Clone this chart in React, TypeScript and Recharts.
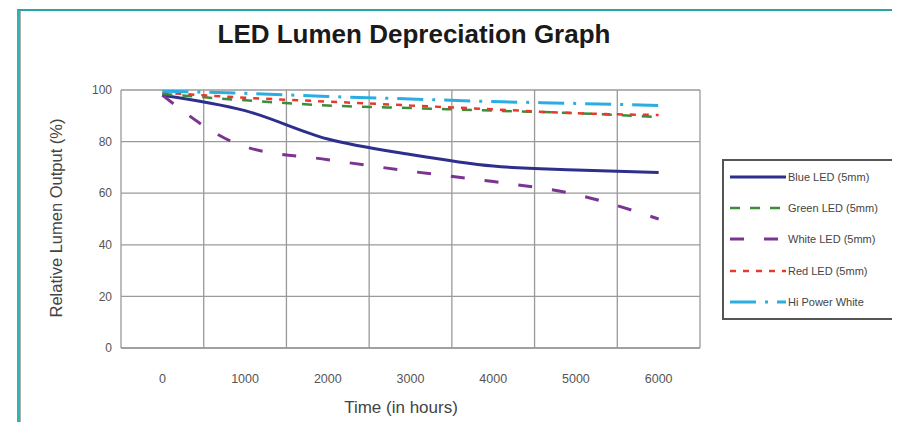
import { CartesianGrid, Line, LineChart, ReferenceLine, XAxis, YAxis } from "recharts";

const hours = [0, 1000, 2000, 3000, 4000, 5000, 6000];
const blueLed = [98, 92, 81, 75, 70.5, 69, 68];
const greenLed = [98.5, 96, 94, 93, 92, 91, 89.5];
const whiteLed = [98, 78, 73, 68.5, 64.5, 59.5, 50];
const redLed = [99, 97, 95.5, 94, 92.5, 91, 90.3];
const hiPowerWhite = [99.5, 98.7, 97.5, 96.5, 95.5, 94.8, 94];
const yTicks = [0, 20, 40, 60, 80, 100];

// category boundaries, drawn as the vertical grid (Excel "between tick marks" look)
const step = 1000;
const boundaries = [...hours.slice(1).map((h) => h - step / 2), hours[hours.length - 1] + step / 2];

const series = [
  { key: "blue", name: "Blue LED (5mm)", values: blueLed, color: "#2e2f8c", width: 3, dash: undefined },
  { key: "green", name: "Green LED (5mm)", values: greenLed, color: "#3c8c3a", width: 2.5, dash: "10 10" },
  { key: "white", name: "White LED (5mm)", values: whiteLed, color: "#7b3590", width: 3, dash: "14 20" },
  { key: "red", name: "Red LED (5mm)", values: redLed, color: "#e8392c", width: 2.5, dash: "6 7" },
  { key: "hipower", name: "Hi Power White", values: hiPowerWhite, color: "#2aaee2", width: 3, dash: "26 9 3 9" }
];

const data = hours.map((h, i) => {
  const row: Record<string, number> = { hours: h };
  series.forEach((s) => {
    row[s.key] = s.values[i];
  });
  return row;
});

const font = "'Liberation Sans', Arial, sans-serif";
const gridColor = "#9a9a9a";

function LegendBox() {
  return (
    <div
      style={{
        position: "absolute",
        left: 722 - 8,
        top: 159 - 8,
        width: 169,
        height: 157,
        border: "2px solid #555",
        background: "#fff",
        fontFamily: font,
        fontSize: 11,
        color: "#444",
        whiteSpace: "nowrap"
      }}
    >
      {series.map((s) => (
        <div key={s.key} style={{ height: 31.4, display: "flex", alignItems: "center" }}>
          <svg width={64} height={10} style={{ flex: "none" }}>
            <line x1={6} y1={5} x2={62} y2={5} stroke={s.color} strokeWidth={s.width} strokeDasharray={s.dash} />
          </svg>
          <span>{s.name}</span>
        </div>
      ))}
    </div>
  );
}

export default function App() {
  return (
    <div style={{ position: "relative", width: 884, height: 414 }}>
      <div
        style={{
          position: "absolute",
          left: 9,
          top: 1,
          width: 890,
          height: 430,
          borderLeft: "3px solid #2fb4b4",
          borderTop: "2px solid #23a7a7",
          boxShadow: "inset 1px 0 0 #b0b0b0",
          background: "#fff"
        }}
      />
      <div
        style={{
          position: "absolute",
          left: -8,
          top: 11,
          width: 828,
          textAlign: "center",
          fontFamily: font,
          fontWeight: "bold",
          fontSize: 26,
          color: "#1a1a1a"
        }}
      >
        LED Lumen Depreciation Graph
      </div>
      <div
        style={{
          position: "absolute",
          left: 56 - 8 - 120,
          top: 218 - 8 - 11,
          width: 240,
          height: 22,
          lineHeight: "22px",
          textAlign: "center",
          transform: "rotate(-90deg)",
          fontFamily: font,
          fontSize: 16.5,
          color: "#444"
        }}
      >
        Relative Lumen Output (%)
      </div>
      <div
        style={{
          position: "absolute",
          left: 401 - 8 - 100,
          top: 398 - 8,
          width: 200,
          textAlign: "center",
          fontFamily: font,
          fontSize: 17,
          color: "#444"
        }}
      >
        Time (in hours)
      </div>
      <div style={{ position: "absolute", left: -8, top: -8 }}>
        <LineChart width={900} height={430} data={data} margin={{ top: 90, right: 200, bottom: 52, left: 61 }}>
          <CartesianGrid vertical={false} stroke={gridColor} strokeWidth={1.3} />
          {boundaries.map((b) => (
            <ReferenceLine key={b} x={b} stroke={gridColor} strokeWidth={1.3} ifOverflow="visible" />
          ))}
          <XAxis
            dataKey="hours"
            type="number"
            domain={[hours[0] - step / 2, hours[hours.length - 1] + step / 2]}
            ticks={hours}
            height={30}
            tickLine={false}
            tickSize={0}
            tickMargin={26}
            axisLine={{ stroke: gridColor, strokeWidth: 1.3 }}
            tick={{ fontSize: 12.5, fill: "#555", fontFamily: font }}
          />
          <YAxis
            domain={[0, 100]}
            ticks={yTicks}
            width={60}
            tickLine={false}
            tickSize={0}
            tickMargin={9}
            axisLine={{ stroke: gridColor, strokeWidth: 1.3 }}
            tick={{ fontSize: 12, fill: "#555", fontFamily: font }}
          />
          {series.map((s) => (
            <Line
              key={s.key}
              dataKey={s.key}
              name={s.name}
              type="monotone"
              stroke={s.color}
              strokeWidth={s.width}
              strokeDasharray={s.dash}
              dot={false}
              activeDot={false}
              isAnimationActive={false}
            />
          ))}
        </LineChart>
      </div>
      <LegendBox />
    </div>
  );
}
